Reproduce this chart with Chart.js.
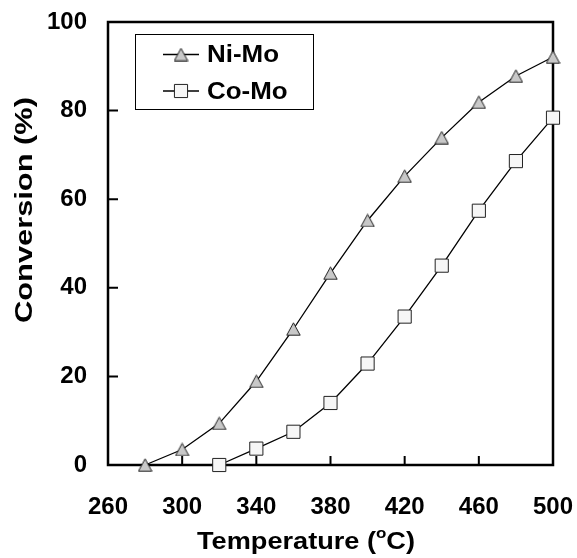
<!DOCTYPE html>
<html>
<head>
<meta charset="utf-8">
<script src="https://cdn.jsdelivr.net/npm/chart.js@4.4.1/dist/chart.umd.min.js"></script>
<style>
  html, body { margin: 0; padding: 0; background: #fff; }
  #wrap { width: 577px; height: 558px; }
</style>
</head>
<body>
<div id="wrap"><canvas id="chart" width="577" height="558"></canvas></div>
<script>
// data
const niMoTemps = [280, 300, 320, 340, 360, 380, 400, 420, 440, 460, 480, 500];
const niMoConv = [0, 3.5, 9.4, 18.9, 30.7, 43.3, 55.2, 65.2, 73.9, 81.9, 87.8, 92.1];
const coMoTemps = [320, 340, 360, 380, 400, 420, 440, 460, 480, 500];
const coMoConv = [0, 3.7, 7.5, 14.0, 22.9, 33.5, 45.0, 57.4, 68.6, 78.4];
const seriesNames = ["Ni-Mo", "Co-Mo"];
const xTickRange = [260, 500, 40];
const yTickRange = [0, 100, 20];
const xTitle = ["Temperature (", "o", "C)"];
const yTitle = "Conversion (%)";

const FONT = "'Liberation Sans', Arial, sans-serif";

function toPoints(xs, ys) {
    return xs.map((x, i) => ({ x: x, y: ys[i] }));
}

// triangle marker centred in its box (like the Excel one)
function makeTriangle() {
    const c = document.createElement("canvas");
    c.width = 15;
    c.height = 14;
    const g = c.getContext("2d");
    g.beginPath();
    g.moveTo(7.5, 0.8);
    g.lineTo(14.2, 13.2);
    g.lineTo(0.8, 13.2);
    g.closePath();
    g.fillStyle = "#c8c8c8";
    g.fill();
    g.strokeStyle = "#222";
    g.lineWidth = 1;
    g.stroke();
    return c;
}

// draw text stretched horizontally to a given width
function stretchText(ctx, parts, cx, cy, width) {
    let natural = 0;
    parts.forEach((p) => {
        ctx.font = p.font;
        natural += ctx.measureText(p.text).width;
    });
    const sx = width / natural;
    ctx.save();
    ctx.translate(cx - width / 2, cy);
    ctx.scale(sx, 1);
    let x = 0;
    parts.forEach((p) => {
        ctx.font = p.font;
        ctx.textAlign = "left";
        ctx.textBaseline = "middle";
        ctx.fillText(p.text, x, p.dy || 0);
        x += ctx.measureText(p.text).width;
    });
    ctx.restore();
}

const framePlugin = {
    id: "frame",
    beforeDatasetsDraw(chart) {
        const { ctx, chartArea: a, scales } = chart;
        ctx.save();
        ctx.strokeStyle = "#000";
        ctx.lineWidth = 2.5;
        ctx.strokeRect(a.left, a.top, a.right - a.left, a.bottom - a.top);

        // inward tick marks
        ctx.lineWidth = 2;
        ctx.beginPath();
        scales.x.ticks.forEach((t) => {
            if (t.value <= scales.x.min || t.value >= scales.x.max) return;
            const px = scales.x.getPixelForValue(t.value);
            ctx.moveTo(px, a.bottom);
            ctx.lineTo(px, a.bottom - 9);
        });
        scales.y.ticks.forEach((t) => {
            if (t.value <= scales.y.min || t.value >= scales.y.max) return;
            const py = scales.y.getPixelForValue(t.value);
            ctx.moveTo(a.left, py);
            ctx.lineTo(a.left + 10, py);
        });
        ctx.stroke();
        ctx.restore();
    },
    afterDraw(chart) {
        const ctx = chart.ctx;
        ctx.save();
        ctx.fillStyle = "#000";

        // axis titles
        stretchText(ctx, [
            { text: xTitle[0], font: "bold 24px " + FONT },
            { text: xTitle[1], font: "bold 15px " + FONT, dy: -8 },
            { text: xTitle[2], font: "bold 24px " + FONT }
        ], 306, 542, 218);

        ctx.save();
        ctx.translate(25, 210);
        ctx.rotate(-Math.PI / 2);
        stretchText(ctx, [{ text: yTitle, font: "bold 24px " + FONT }], 0, 0, 226);
        ctx.restore();

        // legend box
        ctx.strokeStyle = "#000";
        ctx.lineWidth = 1;
        ctx.strokeRect(135.5, 34.5, 178, 75);

        const rows = [54.5, 91];
        chart.data.datasets.forEach((ds, i) => {
            const y = rows[i];
            ctx.strokeStyle = ds.borderColor;
            ctx.lineWidth = ds.borderWidth;
            ctx.beginPath();
            ctx.moveTo(163, y);
            ctx.lineTo(199, y);
            ctx.stroke();

            ctx.fillStyle = ds.pointBackgroundColor;
            ctx.strokeStyle = ds.pointBorderColor;
            ctx.lineWidth = ds.pointBorderWidth;
            Chart.helpers.drawPoint(ctx, {
                pointStyle: ds.pointStyle,
                radius: ds.pointRadius,
                rotation: 0,
                borderWidth: ds.pointBorderWidth
            }, 181, y);

            ctx.fillStyle = "#000";
            ctx.font = "bold 24px " + FONT;
            const w = ctx.measureText(ds.label).width * 1.08;
            stretchText(ctx, [{ text: ds.label, font: "bold 24px " + FONT }], 207 + w / 2, y + 1, w);
        });
        ctx.restore();
    }
};

const ctx = document.getElementById("chart").getContext("2d");

new Chart(ctx, {
    type: "line",
    data: {
        datasets: [
            {
                label: seriesNames[0],
                data: toPoints(niMoTemps, niMoConv),
                borderColor: "#000",
                borderWidth: 1.3,
                pointStyle: makeTriangle(),
                pointRadius: 7.5,
                pointBackgroundColor: "#c8c8c8",
                pointBorderColor: "#222",
                pointBorderWidth: 1,
                tension: 0,
                clip: false
            },
            {
                label: seriesNames[1],
                data: toPoints(coMoTemps, coMoConv),
                borderColor: "#000",
                borderWidth: 1.3,
                pointStyle: "rect",
                pointRadius: 9.3,
                pointBackgroundColor: "#f6f6f6",
                pointBorderColor: "#222",
                pointBorderWidth: 1,
                tension: 0,
                clip: false
            }
        ]
    },
    options: {
        responsive: false,
        animation: false,
        devicePixelRatio: 1,
        layout: { padding: { left: 0, right: 24, top: 22, bottom: 0 } },
        scales: {
            x: {
                type: "linear",
                min: xTickRange[0],
                max: xTickRange[1],
                grid: { display: false, drawTicks: false },
                border: { display: false },
                ticks: {
                    stepSize: xTickRange[2],
                    padding: 28,
                    color: "#000",
                    maxRotation: 0,
                    font: { family: FONT, size: 24, weight: "bold" }
                },
                afterFit(scale) {
                    scale.height = 93;
                    scale.paddingLeft = 0;
                    scale.paddingRight = 0;
                }
            },
            y: {
                min: yTickRange[0],
                max: yTickRange[1],
                grid: { display: false, drawTicks: false },
                border: { display: false },
                ticks: {
                    stepSize: yTickRange[2],
                    padding: 21,
                    color: "#000",
                    font: { family: FONT, size: 24, weight: "bold" }
                },
                afterFit(scale) {
                    scale.width = 108;
                    scale.paddingTop = 0;
                    scale.paddingBottom = 0;
                }
            }
        },
        plugins: {
            legend: { display: false },
            tooltip: { enabled: false }
        }
    },
    plugins: [framePlugin]
});
</script>
</body>
</html>
